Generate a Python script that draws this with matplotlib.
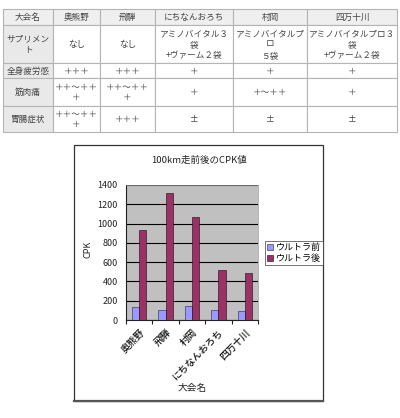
import matplotlib
matplotlib.use("Agg")
import matplotlib.pyplot as plt
from matplotlib.patches import Rectangle
import numpy as np

plt.rcParams['font.family'] = ['Noto Sans CJK JP', 'DejaVu Sans']

# ---- table data ----
table_header = ["大会名", "奥熊野", "飛騨", "にちなんおろち", "村岡", "四万十川"]
row_names = ["サプリメン\nト", "全身疲労感", "筋肉痛", "胃腸症状"]
row_supplement = ["なし", "なし", "アミノバイタル３\n袋\n+ヴァーム２袋",
                  "アミノバイタルプ\nロ\n５袋", "アミノバイタルプロ３\n袋\n+ヴァーム２袋"]
row_fatigue = ["＋＋＋", "＋＋＋", "＋", "＋", "＋"]
row_muscle = ["＋＋～＋＋\n＋", "＋＋～＋＋\n＋", "＋", "＋～＋＋", "＋"]
row_stomach = ["＋＋～＋＋\n＋", "＋＋＋", "±", "±", "±"]

# ---- chart data ----
races = ["奥熊野", "飛騨", "村岡", "にちなんおろち", "四万十川"]
cpk_before = [135, 105, 145, 105, 90]
cpk_after = [930, 1320, 1070, 515, 490]
series_names = ["ウルトラ前", "ウルトラ後"]
yticks = [0, 200, 400, 600, 800, 1000, 1200, 1400]

W, H = 400, 418
fig = plt.figure(figsize=(W / 100, H / 100), dpi=100)
bg = fig.add_axes([0, 0, 1, 1])
bg.set_xlim(0, W)
bg.set_ylim(H, 0)
bg.axis('off')

# ---- table ----
col_x = [3, 53, 100, 155, 233, 307, 397]
row_y = [9, 25, 63, 78, 106, 132]
rows = [table_header,
        [row_names[0]] + row_supplement,
        [row_names[1]] + row_fatigue,
        [row_names[2]] + row_muscle,
        [row_names[3]] + row_stomach]
for r in range(5):
    for c in range(6):
        x0, x1 = col_x[c], col_x[c + 1]
        y0, y1 = row_y[r], row_y[r + 1]
        if r == 0:
            fc = '#efefef'
        elif c == 0:
            fc = '#e9e9e9'
        else:
            fc = 'white'
        bg.add_patch(Rectangle((x0, y0), x1 - x0, y1 - y0, facecolor=fc,
                               edgecolor='#b4b4b4', lw=0.8))
        bg.text((x0 + x1) / 2, (y0 + y1) / 2 + 0.5, rows[r][c], ha='center',
                va='center', fontsize=6.2, color='#444444', linespacing=1.25)

# ---- chart frame ----
bg.add_patch(Rectangle((74, 145), 249, 256, facecolor='white',
                       edgecolor='#333333', lw=0.9))
bg.plot([74, 323], [401, 401], color='#555555', lw=1.6)

ax = fig.add_axes([126 / W, 1 - 320 / H, 132 / W, 135 / H])
ax.set_facecolor('#c0c0c0')
x = np.arange(len(races))
bw = 0.27
ax.bar(x - bw / 2, cpk_before, bw, color='#9999ff', edgecolor='#222244',
       lw=0.4, label=series_names[0], zorder=3)
ax.bar(x + bw / 2, cpk_after, bw, color='#993366', edgecolor='#220011',
       lw=0.4, label=series_names[1], zorder=3)
ax.set_xlim(-0.5, len(races) - 0.5)
ax.set_ylim(0, 1400)
ax.set_yticks(yticks)
ax.yaxis.grid(True, color='black', lw=0.8, zorder=1)
ax.set_axisbelow(True)
ax.tick_params(axis='y', length=0, labelsize=6.5, pad=6, colors='#222222')
ax.set_xticks(np.arange(len(races) + 1) - 0.5, minor=False)
ax.set_xticklabels([])
ax.tick_params(axis='x', length=3, direction='out', color='#222222')
for i, name in enumerate(races):
    ax.text(i + 0.0, -75, name, rotation=45, ha='right', va='top',
            rotation_mode='anchor', fontsize=6.9, color='#111111',
            fontweight='medium')
for s in ['left', 'bottom']:
    ax.spines[s].set_color('#222222')
    ax.spines[s].set_linewidth(0.8)
for s in ['top', 'right']:
    ax.spines[s].set_color('#999999')
    ax.spines[s].set_linewidth(0.5)

bg.text(199, 160, "100km走前後のCPK値", ha='center', va='center',
        fontsize=6.8, color='#222222')
bg.text(88, 249, "CPK", ha='center', va='center', rotation=90,
        fontsize=6.5, color='#222222')
bg.text(192, 388, "大会名", ha='center', va='center', fontsize=7,
        color='#222222')

leg = ax.legend(loc='upper left', bbox_to_anchor=((265 - 126) / 132, (320 - 241) / 135),
                fontsize=6.5, frameon=True, fancybox=False, borderpad=0.25,
                handlelength=0.6, handleheight=0.6, handletextpad=0.3,
                labelspacing=0.2, borderaxespad=0)
leg.get_frame().set_edgecolor('#333333')
leg.get_frame().set_linewidth(0.6)

fig.savefig("out.png", dpi=100)
